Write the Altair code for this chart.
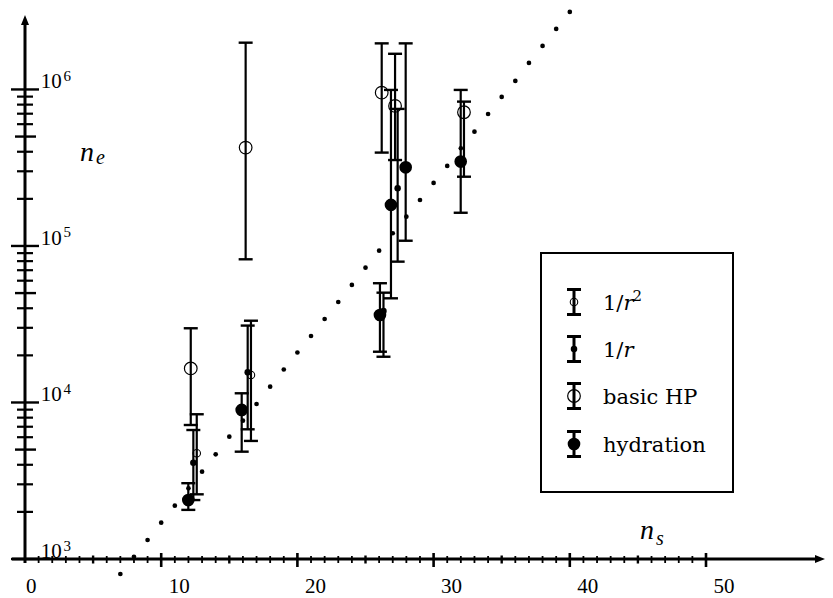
import altair as alt
import pandas as pd

# ---------------- data ----------------
# dotted reference curve
curve_ns = list(range(7, 41))
curve_ne = [802, 1034, 1323, 1706, 2191, 2830, 3613, 4667, 6046, 7649, 9781,
            12620, 16250, 20870, 26600, 34160, 43870, 56340, 72670, 93330,
            120600, 153900, 196700, 252700, 324500, 421000, 537500, 697000,
            896000, 1133000, 1477000, 1897000, 2436000, 3128000]

# hydration (large filled circles)
hyd_ns = [11.99, 15.91, 26.06, 26.87, 27.95, 31.99]
hyd_ne = [2380, 8960, 36200, 183000, 318000, 346000]
hyd_lo = [2060, 4850, 21100, 46300, 108000, 163000]
hyd_hi = [3050, 11450, 57800, 993000, 1970000, 993000]

# basic HP (large open circles)
bhp_ns = [12.17, 16.20, 26.19, 27.17, 32.23]
bhp_ne = [16500, 425000, 954000, 785000, 715000]
bhp_lo = [7180, 82200, 395000, 354000, 277000]
bhp_hi = [29800, 1990000, 1970000, 1690000, 836000]

# 1/r (small filled circles)
r1_ns = [12.36, 16.35, 26.32, 27.36]
r1_ne = [4120, 15600, 38400, 234000]
r1_lo = [2380, 6740, 19600, 79400]
r1_hi = [6670, 31000, 50300, 751000]

# 1/r^2 (small open circles)
r2_ns = [12.61, 16.59]
r2_ne = [4740, 15000]
r2_lo = [2590, 5680]
r2_hi = [8410, 33300]

# axis ticks / labels
x_major = [0, 10, 20, 30, 40, 50]
x_minor = [1, 2, 3, 4, 6, 7, 8, 9, 11, 12, 13, 14, 16, 17, 18, 19, 21, 22, 23, 24,
           26, 27, 28, 29, 31, 32, 33, 34, 36, 37, 38, 39, 41, 42, 43, 44, 46, 47, 48, 49]
x_mid = [5, 15, 25, 35, 45]
y_major = [1e3, 1e4, 1e5, 1e6]
y_exp = ["3", "4", "5", "6"]
y_minor = [m * 10 ** k for k in (3, 4, 5) for m in (2, 3, 4, 6, 7, 8, 9)]
y_mid = [5e3, 5e4, 5e5]

legend_names = ["1/r²", "1/r", "basic HP", "hydration"]

# ---------------- chart ----------------
W, H = 800, 544
FONT = "'Liberation Serif', 'DejaVu Serif', serif"
TFONT = "'DejaVu Serif', 'Liberation Serif', serif"

xs = alt.Scale(domain=[0, 58.737], nice=False, zero=False)
ys = alt.Scale(type="log", domain=[1000, 2.99e6], nice=False)


def X(f):
    return alt.X(f, type="quantitative", scale=xs, axis=None)


def Y(f):
    return alt.Y(f, type="quantitative", scale=ys, axis=None)


def frame(ns, ne, lo, hi, name):
    return pd.DataFrame({"series": name, "ns": ns, "ne": ne, "lo": lo, "hi": hi})


df = pd.concat([
    frame(hyd_ns, hyd_ne, hyd_lo, hyd_hi, "hydration"),
    frame(bhp_ns, bhp_ne, bhp_lo, bhp_hi, "basic HP"),
    frame(r1_ns, r1_ne, r1_lo, r1_hi, "1/r"),
    frame(r2_ns, r2_ne, r2_lo, r2_hi, "1/r2"),
], ignore_index=True)

curve = pd.DataFrame({"ns": curve_ns, "ne": curve_ne})
one = pd.DataFrame({"z": [0]})

bars = alt.Chart(df).mark_rule(color="black", strokeWidth=2.2).encode(
    x=X("ns"), y=Y("lo"), y2="hi")
caps = alt.Chart(df).transform_fold(["lo", "hi"], as_=["k", "cap"]).mark_rule(
    color="black", strokeWidth=2.4, xOffset=-7, x2Offset=7).encode(
    x=X("ns"), x2="ns", y=Y("cap:Q"))

style = {
    "hydration": dict(filled=True, size=160),
    "basic HP": dict(filled=False, size=160, strokeWidth=1.2),
    "1/r": dict(filled=True, size=42),
    "1/r2": dict(filled=False, size=56, strokeWidth=1.1),
}
markers = [
    alt.Chart(df).transform_filter(alt.datum.series == k).mark_point(
        shape="circle", color="black", opacity=1, **v).encode(x=X("ns"), y=Y("ne"))
    for k, v in style.items()
]

dots = alt.Chart(curve).mark_point(shape="circle", filled=True, size=22,
                                   color="black", opacity=1).encode(x=X("ns"), y=Y("ne"))

# axes
xaxis = alt.Chart(one).mark_rule(color="black", strokeWidth=3).encode(
    x=alt.value(-13), x2=alt.value(792), y=alt.value(H), y2=alt.value(H))
yaxis = alt.Chart(one).mark_rule(color="black", strokeWidth=3).encode(
    x=alt.value(0), x2=alt.value(0), y=alt.value(8), y2=alt.value(H + 4))
xarrow = alt.Chart(one).mark_point(shape="M1,0L0,-0.4L0,0.4Z", filled=True, size=400,
                                   color="black", opacity=1).encode(
    x=alt.value(790), y=alt.value(H))
yarrow = alt.Chart(one).mark_point(shape="M0,-1L0.4,0L-0.4,0Z", filled=True, size=400,
                                   color="black", opacity=1).encode(
    x=alt.value(0), y=alt.value(10))

xt_major = alt.Chart(pd.DataFrame({"t": x_major[1:]})).mark_rule(
    color="black", strokeWidth=2.6).encode(x=X("t"), y=alt.value(H - 6), y2=alt.value(H + 8))
xt_minor = alt.Chart(pd.DataFrame({"t": x_minor})).mark_rule(
    color="black", strokeWidth=1.8).encode(x=X("t"), y=alt.value(H - 3), y2=alt.value(H + 4))
xt_mid = alt.Chart(pd.DataFrame({"t": x_mid})).mark_rule(
    color="black", strokeWidth=2.4).encode(x=X("t"), y=alt.value(H - 3.5), y2=alt.value(H + 4.5))

yt_major = alt.Chart(pd.DataFrame({"t": y_major})).mark_rule(
    color="black", strokeWidth=2.4).encode(y=Y("t"), x=alt.value(-14), x2=alt.value(14))
yt_minor = alt.Chart(pd.DataFrame({"t": y_minor})).mark_rule(
    color="black", strokeWidth=2.2).encode(y=Y("t"), x=alt.value(-8), x2=alt.value(8))
yt_mid = alt.Chart(pd.DataFrame({"t": y_mid})).mark_rule(
    color="black", strokeWidth=2.4).encode(y=Y("t"), x=alt.value(-10), x2=alt.value(11))

xlab_df = pd.DataFrame({"t": x_major, "s": [str(v) for v in x_major]})
xlab0 = alt.Chart(xlab_df).transform_filter(alt.datum.t == 0).mark_text(
    font=FONT, fontSize=21, align="left", baseline="alphabetic", dx=1, color="black").encode(
    x=X("t"), y=alt.value(578), text="s:N")
xlab = alt.Chart(xlab_df).transform_filter(alt.datum.t > 0).mark_text(
    font=FONT, fontSize=21, align="left", baseline="alphabetic", dx=7.5, color="black").encode(
    x=X("t"), y=alt.value(578), text="s:N")

ylab_df = pd.DataFrame({"t": y_major, "e": y_exp})
ylab = alt.Chart(ylab_df).mark_text(
    font=FONT, fontSize=21, align="left", baseline="alphabetic", dy=-1, text="10",
    color="black").encode(y=Y("t"), x=alt.value(15.7))
yexp = alt.Chart(ylab_df).mark_text(
    font=FONT, fontSize=15, align="left", baseline="alphabetic", dy=-8.5,
    color="black").encode(y=Y("t"), x=alt.value(38.5), text="e:N")


def txt(s, x, y, size, italic=False, font=FONT):
    return alt.Chart(one).mark_text(
        text=s, font=font, fontSize=size, fontStyle="italic" if italic else "normal",
        align="left", baseline="alphabetic", color="black").encode(
        x=alt.value(x), y=alt.value(y))


titles = [
    txt("n", 55, 145.5, 28, True), txt("e", 71, 149, 20, True),
    txt("n", 615, 524, 28, True), txt("s", 631, 530, 20, True),
]

# legend (hand-drawn box, as in the original)
legend = [alt.Chart(one).mark_rect(fill="white", stroke="black", strokeWidth=2).encode(
    x=alt.value(516), x2=alt.value(708), y=alt.value(238), y2=alt.value(477))]
row_y = [287, 334, 381, 429]
legend_style = [style["1/r2"], style["1/r"], style["basic HP"], style["hydration"]]
for i, name in enumerate(legend_names):
    cy = row_y[i]
    legend.append(alt.Chart(one).mark_rule(color="black", strokeWidth=3).encode(
        x=alt.value(549), x2=alt.value(549), y=alt.value(cy - 12.5), y2=alt.value(cy + 12.5)))
    for yy in (cy - 12.5, cy + 12.5):
        legend.append(alt.Chart(one).mark_rule(color="black", strokeWidth=3).encode(
            x=alt.value(542), x2=alt.value(556), y=alt.value(yy), y2=alt.value(yy)))
    legend.append(alt.Chart(one).mark_point(shape="circle", color="black", opacity=1,
                                            **legend_style[i]).encode(
        x=alt.value(549), y=alt.value(cy)))
    base_y = cy + 8
    if name.startswith("1/"):
        legend.append(txt("1/", 578, base_y, 21, font=TFONT))
        legend.append(txt("r", 598.5, base_y, 21, True, font=TFONT))
        if name == "1/r²":
            legend.append(txt("2", 607.5, base_y - 9, 15, font=TFONT))
    else:
        legend.append(txt(name, 578, base_y, 21, font=TFONT))

chart = alt.layer(
    bars, caps, dots, *markers,
    xt_minor, xt_mid, xt_major, yt_minor, yt_mid, yt_major,
    xaxis, yaxis, xarrow, yarrow,
    xlab0, xlab, ylab, yexp, *titles, *legend,
).properties(
    width=W, height=H, autosize="none",
    padding={"left": 17, "top": 7, "right": 0, "bottom": 39},
    background="white",
).configure_view(stroke=None)

chart.save("out.html", embed_options={"renderer": "svg", "actions": False})
